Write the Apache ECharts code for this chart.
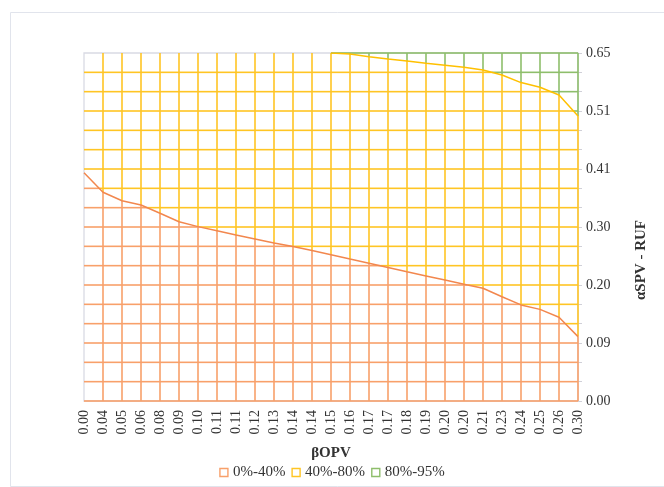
<!DOCTYPE html>
<html>
<head>
<meta charset="utf-8">
<script src="https://cdn.jsdelivr.net/npm/echarts@6/dist/echarts.min.js"></script>
<style>
html,body{margin:0;padding:0;background:#fff;}
#chart{width:664px;height:487px;}
</style>
</head>
<body>
<div id="chart"></div>
<script>
// x categories (βOPV)
const xLabels = ['0.00','0.04','0.05','0.06','0.08','0.09','0.10','0.11','0.11','0.12','0.13','0.14','0.14','0.15','0.16','0.17','0.17','0.18','0.19','0.20','0.20','0.21','0.23','0.24','0.25','0.26','0.30'];
// y tick labels (αSPV - RUF), shown every third row of 18 rows
const yLabels = ['0.00','0.09','0.20','0.30','0.41','0.51','0.65'];
const rowCount = 18;
const labelEvery = 3;
// band boundaries (position in rows) for each column: 40% contour and 80% contour
const contour40 = [11.81,10.80,10.36,10.14,9.71,9.27,9.02,8.81,8.59,8.38,8.17,7.99,7.78,7.56,7.34,7.13,6.91,6.68,6.47,6.26,6.04,5.83,5.39,4.97,4.74,4.33,3.33];
const contour80 = [null,null,null,null,null,null,null,null,null,null,null,null,null,18.0,17.95,17.81,17.69,17.59,17.47,17.37,17.26,17.12,16.86,16.47,16.23,15.83,14.74];
const bandNames = ['0%-40%','40%-80%','80%-95%'];
const bandColors = ['#F8A06A','#FFC524','#8EBE6B'];

const nCols = xLabels.length;
function c80v(i){ const v = contour80[i]; return v == null ? rowCount + 1 : v; }
function c40v(i){ return contour40[i]; }
function bandAt(x, y){
  const i = Math.min(Math.floor(x), nCols - 2);
  const t = x - i;
  const a = c40v(i) + (c40v(i+1) - c40v(i)) * t;
  const b = c80v(i) + (c80v(i+1) - c80v(i)) * t;
  if (y < a) return 0;
  if (y > b) return 2;
  return 1;
}
// grid lines: [kind, index, seg]  kind 0 = column line, kind 1 = row segment between columns seg and seg+1
const gridLines = [];
for (let i = 1; i < nCols; i++) gridLines.push([0, i, 0]);
for (let j = 0; j <= rowCount; j++) for (let s = 0; s < nCols - 1; s++) gridLines.push([1, j, s]);

function makeRender(band){
  return function(params, api){
    const kind = api.value(0), idx = api.value(1), seg = api.value(2);
    let x0, y0, x1, y1, ts = [0, 1];
    if (kind === 0) {
      x0 = idx; x1 = idx; y0 = 0; y1 = rowCount;
      [c40v(idx), c80v(idx)].forEach(v => { const t = v / rowCount; if (t > 0 && t < 1) ts.push(t); });
    } else {
      if (idx === rowCount && band !== 2) return null;
      x0 = seg; x1 = seg + 1; y0 = idx; y1 = idx;
      [[c40v(seg), c40v(seg+1)], [c80v(seg), c80v(seg+1)]].forEach(p => {
        if (p[1] !== p[0]) { const t = (idx - p[0]) / (p[1] - p[0]); if (t > 0 && t < 1) ts.push(t); }
      });
    }
    ts.sort((a, b) => a - b);
    const P0 = api.coord([x0, y0]);
    const P1 = api.coord([x1, y1]);
    const children = [];
    for (let k = 0; k < ts.length - 1; k++) {
      const ta = ts[k], tb = ts[k+1];
      if (tb - ta < 1e-6) continue;
      const tm = (ta + tb) / 2;
      const b = bandAt(x0 + (x1 - x0) * tm, y0 + (y1 - y0) * tm);
      if (b !== band) continue;
      children.push({
        type: 'line',
        shape: {
          x1: P0[0] + (P1[0] - P0[0]) * ta, y1: P0[1] + (P1[1] - P0[1]) * ta,
          x2: P0[0] + (P1[0] - P0[0]) * tb, y2: P0[1] + (P1[1] - P0[1]) * tb
        },
        style: { stroke: bandColors[band], lineWidth: 1.6 }
      });
    }
    return { type: 'group', children: children };
  };
}

const serif = 'Liberation Serif';
const chart = echarts.init(document.getElementById('chart'), null, { renderer: 'canvas' });
const series = bandNames.map((name, b) => ({
  name: name,
  type: 'custom',
  renderItem: makeRender(b),
  data: gridLines,
  itemStyle: { color: '#fff', borderColor: bandColors[b], borderWidth: 1.4 },
  animation: false,
  silent: true,
  z: 2
}));
series.push({
  name: 'c40', type: 'line', data: contour40, symbol: 'none',
  lineStyle: { color: '#F2874E', width: 1.5 }, z: 3, animation: false, silent: true
});
series.push({
  name: 'c80', type: 'line', data: contour80, symbol: 'none', connectNulls: false,
  lineStyle: { color: '#FFC000', width: 1.5 }, z: 3, animation: false, silent: true
});

chart.setOption({
  backgroundColor: '#fff',
  animation: false,
  graphic: [{
    type: 'rect', shape: { x: 10.5, y: 12.5, width: 700, height: 474 },
    style: { fill: 'none', stroke: '#E1E4EC', lineWidth: 1 }, silent: true
  }],
  grid: { left: 84, right: 86, top: 53, bottom: 86, show: true, borderColor: '#D9DAE4', borderWidth: 1.3, backgroundColor: 'transparent' },
  legend: {
    bottom: 2, left: 'center',
    itemWidth: 8, itemHeight: 8, itemGap: 6,
    textStyle: { fontFamily: serif, fontSize: 15, color: '#333' },
    data: bandNames.map((n, b) => ({ name: n, icon: 'rect', itemStyle: { color: '#fff', borderColor: bandColors[b], borderWidth: 1.4 } })),
    selectedMode: false
  },
  xAxis: {
    type: 'category', data: xLabels, boundaryGap: false,
    axisLine: { show: false }, axisTick: { show: false }, splitLine: { show: false },
    axisLabel: { rotate: 90, interval: 0, margin: 9, fontFamily: serif, fontSize: 14, color: '#333' },
    name: 'βOPV', nameLocation: 'middle', nameGap: 45,
    nameTextStyle: { fontFamily: serif, fontSize: 15, fontWeight: 'bold', color: '#333' }
  },
  yAxis: {
    type: 'value', position: 'right', min: 0, max: rowCount, interval: 1,
    axisLine: { show: false }, splitLine: { show: false },
    axisTick: { show: true, length: 4, lineStyle: { color: '#D0D0D8' } },
    axisLabel: {
      margin: 8, fontFamily: serif, fontSize: 14, color: '#333',
      formatter: v => (v % labelEvery === 0 ? yLabels[v / labelEvery] : '')
    },
    name: 'αSPV - RUF', nameLocation: 'middle', nameGap: 56, nameRotate: 90,
    nameTextStyle: { fontFamily: serif, fontSize: 15, fontWeight: 'bold', color: '#333', padding: [0, 66, 0, 0] }
  },
  series: series
});
</script>
</body>
</html>
